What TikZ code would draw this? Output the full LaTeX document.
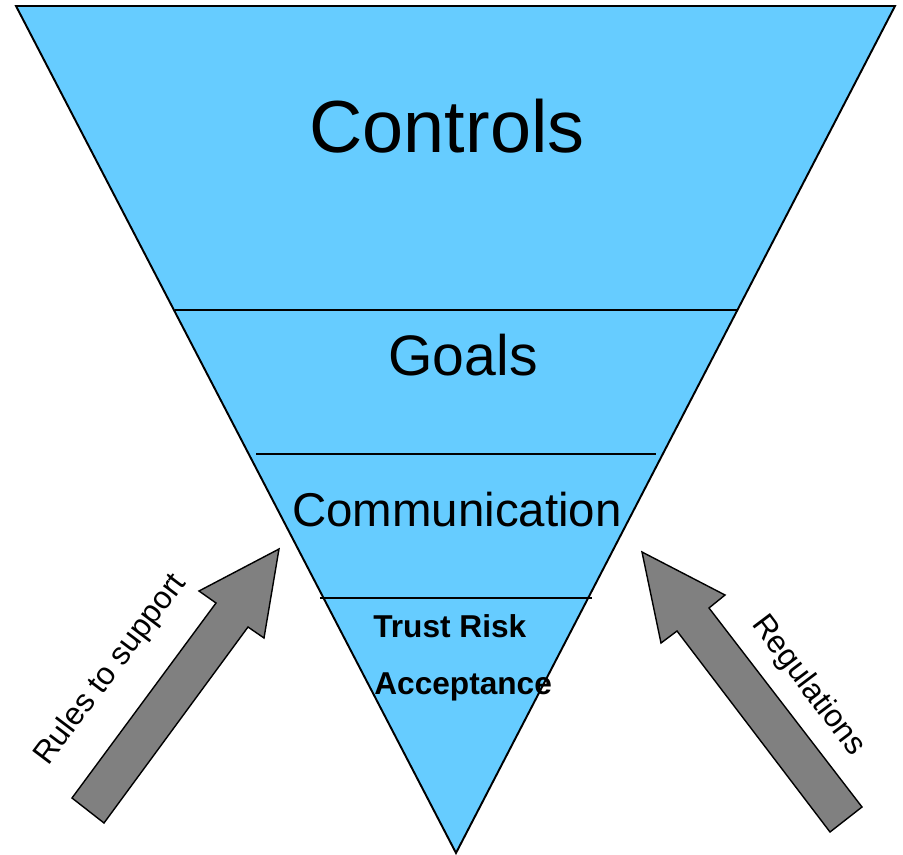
\documentclass[tikz,border=0pt]{standalone}
\usepackage{fontspec}
\setmainfont{Liberation Sans}
\usepackage{tikz}
\definecolor{funnelblue}{HTML}{66CCFF}
\definecolor{arrowgray}{HTML}{808080}
\tikzstyle{funnel}=[fill=funnelblue,draw=black,line width=1.1pt,line join=miter]
\tikzstyle{layer line}=[draw,line width=0.8pt]
\tikzstyle{block arrow}=[fill=arrowgray,draw=black,line width=0.8pt,line join=miter]
\tikzstyle{side text}=[inner sep=0pt,font=\fontsize{18}{20}\selectfont]

\begin{document}
\begin{tikzpicture}[x=0.02cm,y=-0.02cm]
          \useasboundingbox (0,0) rectangle (903,855);
          % funnel corners
          \coordinate (tl) at (16,6);
          \coordinate (tr) at (895,6);
          \coordinate (bot) at (456,853);
          \draw[funnel] (tl) -- (tr) -- (bot) -- cycle;
          % layer lines
          \coordinate (g1) at (175,310);
          \coordinate (g2) at (738,310);
          \coordinate (c1) at (256,454);
          \coordinate (c2) at (656,454);
          \coordinate (t1) at (320,598);
          \coordinate (t2) at (592,598);
          \draw[layer line] (g1) -- (g2);
          \draw[layer line] (c1) -- (c2);
          \draw[layer line] (t1) -- (t2);
          % layer texts
          \node[anchor=base,inner sep=0pt,font=\fontsize{42}{46}\selectfont] (controls) at (447,153) {Controls};
          \node[anchor=base,inner sep=0pt,font=\fontsize{32.5}{36}\selectfont] (goals) at (463,375) {Goals};
          \node[anchor=base,inner sep=0pt,font=\fontsize{27}{30}\selectfont] (comm) at (457,526) {Communication};
          \node[anchor=base west,inner sep=0pt,font=\bfseries\fontsize{18}{20}\selectfont] (trust) at (373,637) {Trust Risk};
          \node[anchor=base west,inner sep=0pt,font=\bfseries\fontsize{18}{20}\selectfont] (accept) at (374,694) {Acceptance};
          % left arrow
          \draw[block arrow] (72,798) -- (216,603) -- (199,591) -- (279,549)
                -- (264,638) -- (248,627) -- (104,823) -- cycle;
          % right arrow
          \draw[block arrow] (862,807) -- (709,608) -- (725,595) -- (642,552)
                -- (661,643) -- (677,631) -- (830,832) -- cycle;
          % side texts
          \node[side text,rotate=53] (rules) at (111,670) {Rules to support};
          \node[side text,rotate=-53] (regs) at (808,686) {Regulations};
        \end{tikzpicture}
\end{document}
